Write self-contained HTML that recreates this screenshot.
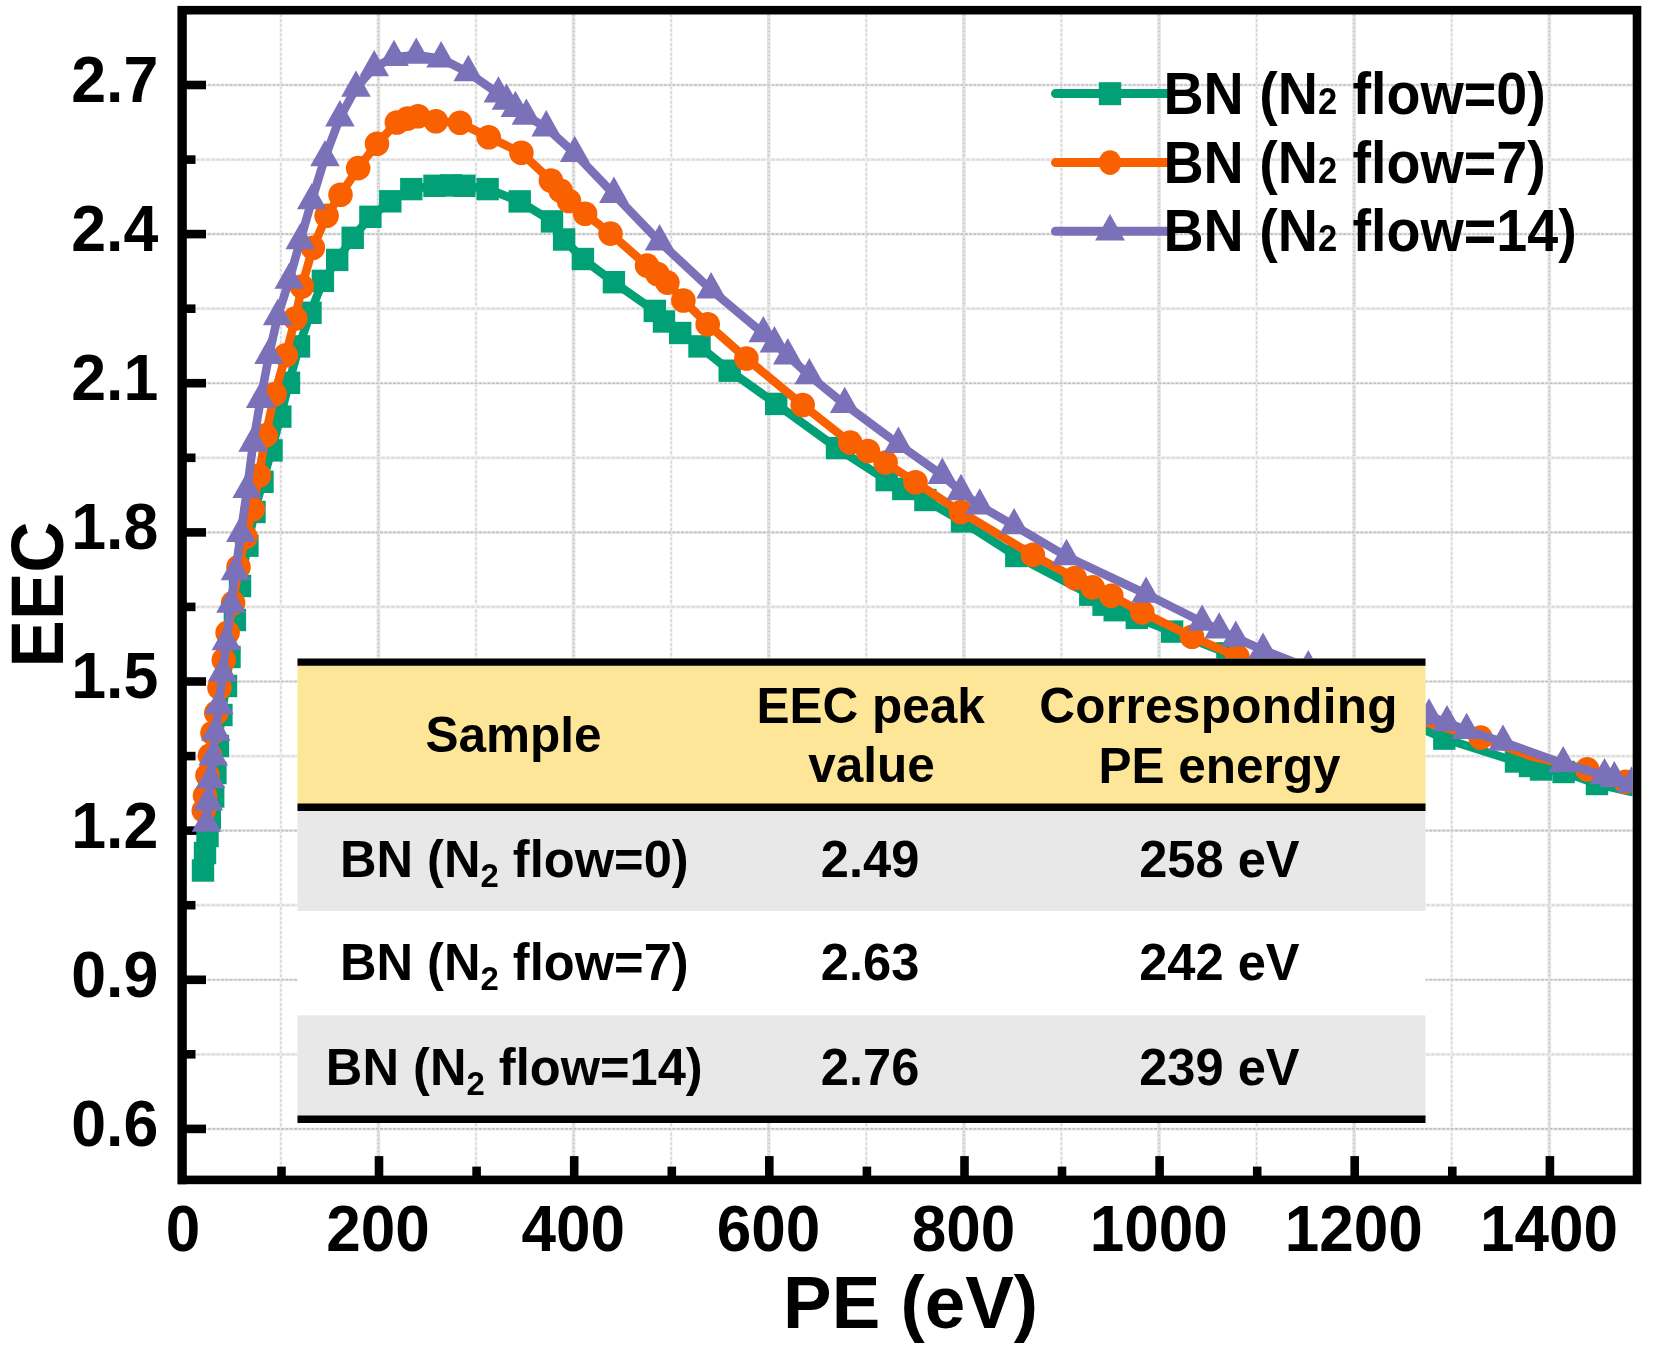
<!DOCTYPE html>
<html lang="en"><head><meta charset="utf-8"><title>EEC vs PE</title>
<style>html,body{margin:0;padding:0;background:#fff}svg{display:block;filter:blur(0.4px)}</style></head>
<body>
<svg width="1662" height="1357" viewBox="0 0 1662 1357" font-family="'Liberation Sans', sans-serif" font-weight="bold">
<rect width="1662" height="1357" fill="#fff"/>
<defs><clipPath id="plot"><rect x="186.5" y="14.5" width="1446.2" height="1161.1"/></clipPath></defs>
<g clip-path="url(#plot)" fill="none">
<line x1="280.9" y1="14.5" x2="280.9" y2="1175.6" stroke="#f3f3f3" stroke-width="2.8"/>
<line x1="280.9" y1="14.5" x2="280.9" y2="1175.6" stroke="#d4d4d4" stroke-width="1.5" stroke-dasharray="2.6 2.2"/>
<line x1="378.4" y1="14.5" x2="378.4" y2="1175.6" stroke="#e6e6e6" stroke-width="3.6"/>
<line x1="378.4" y1="14.5" x2="378.4" y2="1175.6" stroke="#cdcdcd" stroke-width="2.4" stroke-dasharray="1.8 2.2"/>
<line x1="476.0" y1="14.5" x2="476.0" y2="1175.6" stroke="#f3f3f3" stroke-width="2.8"/>
<line x1="476.0" y1="14.5" x2="476.0" y2="1175.6" stroke="#d4d4d4" stroke-width="1.5" stroke-dasharray="2.6 2.2"/>
<line x1="573.6" y1="14.5" x2="573.6" y2="1175.6" stroke="#e6e6e6" stroke-width="3.6"/>
<line x1="573.6" y1="14.5" x2="573.6" y2="1175.6" stroke="#cdcdcd" stroke-width="2.4" stroke-dasharray="1.8 2.2"/>
<line x1="671.2" y1="14.5" x2="671.2" y2="1175.6" stroke="#f3f3f3" stroke-width="2.8"/>
<line x1="671.2" y1="14.5" x2="671.2" y2="1175.6" stroke="#d4d4d4" stroke-width="1.5" stroke-dasharray="2.6 2.2"/>
<line x1="768.7" y1="14.5" x2="768.7" y2="1175.6" stroke="#e6e6e6" stroke-width="3.6"/>
<line x1="768.7" y1="14.5" x2="768.7" y2="1175.6" stroke="#cdcdcd" stroke-width="2.4" stroke-dasharray="1.8 2.2"/>
<line x1="866.3" y1="14.5" x2="866.3" y2="1175.6" stroke="#f3f3f3" stroke-width="2.8"/>
<line x1="866.3" y1="14.5" x2="866.3" y2="1175.6" stroke="#d4d4d4" stroke-width="1.5" stroke-dasharray="2.6 2.2"/>
<line x1="963.9" y1="14.5" x2="963.9" y2="1175.6" stroke="#e6e6e6" stroke-width="3.6"/>
<line x1="963.9" y1="14.5" x2="963.9" y2="1175.6" stroke="#cdcdcd" stroke-width="2.4" stroke-dasharray="1.8 2.2"/>
<line x1="1061.4" y1="14.5" x2="1061.4" y2="1175.6" stroke="#f3f3f3" stroke-width="2.8"/>
<line x1="1061.4" y1="14.5" x2="1061.4" y2="1175.6" stroke="#d4d4d4" stroke-width="1.5" stroke-dasharray="2.6 2.2"/>
<line x1="1159.0" y1="14.5" x2="1159.0" y2="1175.6" stroke="#e6e6e6" stroke-width="3.6"/>
<line x1="1159.0" y1="14.5" x2="1159.0" y2="1175.6" stroke="#cdcdcd" stroke-width="2.4" stroke-dasharray="1.8 2.2"/>
<line x1="1256.6" y1="14.5" x2="1256.6" y2="1175.6" stroke="#f3f3f3" stroke-width="2.8"/>
<line x1="1256.6" y1="14.5" x2="1256.6" y2="1175.6" stroke="#d4d4d4" stroke-width="1.5" stroke-dasharray="2.6 2.2"/>
<line x1="1354.1" y1="14.5" x2="1354.1" y2="1175.6" stroke="#e6e6e6" stroke-width="3.6"/>
<line x1="1354.1" y1="14.5" x2="1354.1" y2="1175.6" stroke="#cdcdcd" stroke-width="2.4" stroke-dasharray="1.8 2.2"/>
<line x1="1451.7" y1="14.5" x2="1451.7" y2="1175.6" stroke="#f3f3f3" stroke-width="2.8"/>
<line x1="1451.7" y1="14.5" x2="1451.7" y2="1175.6" stroke="#d4d4d4" stroke-width="1.5" stroke-dasharray="2.6 2.2"/>
<line x1="1549.3" y1="14.5" x2="1549.3" y2="1175.6" stroke="#e6e6e6" stroke-width="3.6"/>
<line x1="1549.3" y1="14.5" x2="1549.3" y2="1175.6" stroke="#cdcdcd" stroke-width="2.4" stroke-dasharray="1.8 2.2"/>
<line x1="186.5" y1="1128.9" x2="1632.7" y2="1128.9" stroke="#eeeeee" stroke-width="3"/>
<line x1="186.5" y1="1128.9" x2="1632.7" y2="1128.9" stroke="#c0c0c0" stroke-width="1.6" stroke-dasharray="3 1.3"/>
<line x1="186.5" y1="1054.3" x2="1632.7" y2="1054.3" stroke="#f1f1f1" stroke-width="3.2"/>
<line x1="186.5" y1="1054.3" x2="1632.7" y2="1054.3" stroke="#dcdcdc" stroke-width="2.2" stroke-dasharray="3.2 1.8"/>
<line x1="186.5" y1="979.8" x2="1632.7" y2="979.8" stroke="#eeeeee" stroke-width="3"/>
<line x1="186.5" y1="979.8" x2="1632.7" y2="979.8" stroke="#c0c0c0" stroke-width="1.6" stroke-dasharray="3 1.3"/>
<line x1="186.5" y1="905.2" x2="1632.7" y2="905.2" stroke="#f1f1f1" stroke-width="3.2"/>
<line x1="186.5" y1="905.2" x2="1632.7" y2="905.2" stroke="#dcdcdc" stroke-width="2.2" stroke-dasharray="3.2 1.8"/>
<line x1="186.5" y1="830.6" x2="1632.7" y2="830.6" stroke="#eeeeee" stroke-width="3"/>
<line x1="186.5" y1="830.6" x2="1632.7" y2="830.6" stroke="#c0c0c0" stroke-width="1.6" stroke-dasharray="3 1.3"/>
<line x1="186.5" y1="756.1" x2="1632.7" y2="756.1" stroke="#f1f1f1" stroke-width="3.2"/>
<line x1="186.5" y1="756.1" x2="1632.7" y2="756.1" stroke="#dcdcdc" stroke-width="2.2" stroke-dasharray="3.2 1.8"/>
<line x1="186.5" y1="681.5" x2="1632.7" y2="681.5" stroke="#eeeeee" stroke-width="3"/>
<line x1="186.5" y1="681.5" x2="1632.7" y2="681.5" stroke="#c0c0c0" stroke-width="1.6" stroke-dasharray="3 1.3"/>
<line x1="186.5" y1="606.9" x2="1632.7" y2="606.9" stroke="#f1f1f1" stroke-width="3.2"/>
<line x1="186.5" y1="606.9" x2="1632.7" y2="606.9" stroke="#dcdcdc" stroke-width="2.2" stroke-dasharray="3.2 1.8"/>
<line x1="186.5" y1="532.4" x2="1632.7" y2="532.4" stroke="#eeeeee" stroke-width="3"/>
<line x1="186.5" y1="532.4" x2="1632.7" y2="532.4" stroke="#c0c0c0" stroke-width="1.6" stroke-dasharray="3 1.3"/>
<line x1="186.5" y1="457.8" x2="1632.7" y2="457.8" stroke="#f1f1f1" stroke-width="3.2"/>
<line x1="186.5" y1="457.8" x2="1632.7" y2="457.8" stroke="#dcdcdc" stroke-width="2.2" stroke-dasharray="3.2 1.8"/>
<line x1="186.5" y1="383.2" x2="1632.7" y2="383.2" stroke="#eeeeee" stroke-width="3"/>
<line x1="186.5" y1="383.2" x2="1632.7" y2="383.2" stroke="#c0c0c0" stroke-width="1.6" stroke-dasharray="3 1.3"/>
<line x1="186.5" y1="308.7" x2="1632.7" y2="308.7" stroke="#f1f1f1" stroke-width="3.2"/>
<line x1="186.5" y1="308.7" x2="1632.7" y2="308.7" stroke="#dcdcdc" stroke-width="2.2" stroke-dasharray="3.2 1.8"/>
<line x1="186.5" y1="234.1" x2="1632.7" y2="234.1" stroke="#eeeeee" stroke-width="3"/>
<line x1="186.5" y1="234.1" x2="1632.7" y2="234.1" stroke="#c0c0c0" stroke-width="1.6" stroke-dasharray="3 1.3"/>
<line x1="186.5" y1="159.6" x2="1632.7" y2="159.6" stroke="#f1f1f1" stroke-width="3.2"/>
<line x1="186.5" y1="159.6" x2="1632.7" y2="159.6" stroke="#dcdcdc" stroke-width="2.2" stroke-dasharray="3.2 1.8"/>
<line x1="186.5" y1="85.0" x2="1632.7" y2="85.0" stroke="#eeeeee" stroke-width="3"/>
<line x1="186.5" y1="85.0" x2="1632.7" y2="85.0" stroke="#c0c0c0" stroke-width="1.6" stroke-dasharray="3 1.3"/>
</g>
<rect x="182.2" y="10.2" width="1454.8" height="1169.7" fill="none" stroke="#000" stroke-width="8.6"/>
<line x1="182.05" y1="5.9" x2="182.05" y2="1184.2" stroke="#000" stroke-width="9.2"/>
<line x1="281.5" y1="1176.1" x2="281.5" y2="1166.6" stroke="#000" stroke-width="8.6"/>
<line x1="379.0" y1="1176.1" x2="379.0" y2="1156.1" stroke="#000" stroke-width="8.6"/>
<line x1="476.6" y1="1176.1" x2="476.6" y2="1166.6" stroke="#000" stroke-width="8.6"/>
<line x1="574.2" y1="1176.1" x2="574.2" y2="1156.1" stroke="#000" stroke-width="8.6"/>
<line x1="671.8" y1="1176.1" x2="671.8" y2="1166.6" stroke="#000" stroke-width="8.6"/>
<line x1="769.3" y1="1176.1" x2="769.3" y2="1156.1" stroke="#000" stroke-width="8.6"/>
<line x1="866.9" y1="1176.1" x2="866.9" y2="1166.6" stroke="#000" stroke-width="8.6"/>
<line x1="964.5" y1="1176.1" x2="964.5" y2="1156.1" stroke="#000" stroke-width="8.6"/>
<line x1="1062.0" y1="1176.1" x2="1062.0" y2="1166.6" stroke="#000" stroke-width="8.6"/>
<line x1="1159.6" y1="1176.1" x2="1159.6" y2="1156.1" stroke="#000" stroke-width="8.6"/>
<line x1="1257.2" y1="1176.1" x2="1257.2" y2="1166.6" stroke="#000" stroke-width="8.6"/>
<line x1="1354.7" y1="1176.1" x2="1354.7" y2="1156.1" stroke="#000" stroke-width="8.6"/>
<line x1="1452.3" y1="1176.1" x2="1452.3" y2="1166.6" stroke="#000" stroke-width="8.6"/>
<line x1="1549.9" y1="1176.1" x2="1549.9" y2="1156.1" stroke="#000" stroke-width="8.6"/>
<line x1="186.0" y1="1128.9" x2="206.0" y2="1128.9" stroke="#000" stroke-width="8.6"/>
<line x1="186.0" y1="1054.3" x2="195.5" y2="1054.3" stroke="#000" stroke-width="8.6"/>
<line x1="186.0" y1="979.8" x2="206.0" y2="979.8" stroke="#000" stroke-width="8.6"/>
<line x1="186.0" y1="905.2" x2="195.5" y2="905.2" stroke="#000" stroke-width="8.6"/>
<line x1="186.0" y1="830.6" x2="206.0" y2="830.6" stroke="#000" stroke-width="8.6"/>
<line x1="186.0" y1="756.1" x2="195.5" y2="756.1" stroke="#000" stroke-width="8.6"/>
<line x1="186.0" y1="681.5" x2="206.0" y2="681.5" stroke="#000" stroke-width="8.6"/>
<line x1="186.0" y1="606.9" x2="195.5" y2="606.9" stroke="#000" stroke-width="8.6"/>
<line x1="186.0" y1="532.4" x2="206.0" y2="532.4" stroke="#000" stroke-width="8.6"/>
<line x1="186.0" y1="457.8" x2="195.5" y2="457.8" stroke="#000" stroke-width="8.6"/>
<line x1="186.0" y1="383.2" x2="206.0" y2="383.2" stroke="#000" stroke-width="8.6"/>
<line x1="186.0" y1="308.7" x2="195.5" y2="308.7" stroke="#000" stroke-width="8.6"/>
<line x1="186.0" y1="234.1" x2="206.0" y2="234.1" stroke="#000" stroke-width="8.6"/>
<line x1="186.0" y1="159.6" x2="195.5" y2="159.6" stroke="#000" stroke-width="8.6"/>
<line x1="186.0" y1="85.0" x2="206.0" y2="85.0" stroke="#000" stroke-width="8.6"/>
<g clip-path="url(#plot)">
<polyline points="203.0,870.5 205.0,853.0 207.5,836.0 209.8,818.0 213.2,796.5 215.4,773.0 217.9,746.0 221.4,715.0 226.0,686.0 229.5,657.0 234.9,620.0 240.0,586.0 247.4,545.7 254.5,512.0 262.5,481.8 271.5,450.4 280.3,416.6 289.0,382.8 299.0,346.4 310.5,312.8 322.9,280.9 337.2,259.9 352.7,237.8 370.4,216.8 390.3,201.3 411.3,189.1 434.5,185.8 451.1,185.4 464.4,185.8 487.6,189.1 519.7,201.4 552.0,221.4 564.1,239.5 582.9,259.0 613.9,282.2 654.8,310.9 664.0,321.5 680.2,333.0 699.5,346.4 729.7,370.7 776.2,403.9 837.0,448.1 886.7,480.1 903.3,489.0 925.4,500.0 962.0,521.4 1016.3,556.0 1090.3,594.7 1103.6,604.7 1114.7,610.2 1136.8,617.9 1172.1,631.6 1227.4,653.3 1290.0,678.0 1360.0,704.0 1425.0,730.0 1444.3,738.6 1480.0,750.0 1516.0,761.5 1530.0,766.0 1541.0,769.5 1563.6,772.0 1597.0,784.0 1630.0,791.5 1662.0,797.0" fill="none" stroke="#01a077" stroke-width="8.6" stroke-linejoin="round" stroke-linecap="round"/>
<rect x="191.8" y="859.3" width="22.4" height="22.4" fill="#01a077"/>
<rect x="193.8" y="841.8" width="22.4" height="22.4" fill="#01a077"/>
<rect x="196.3" y="824.8" width="22.4" height="22.4" fill="#01a077"/>
<rect x="198.6" y="806.8" width="22.4" height="22.4" fill="#01a077"/>
<rect x="202.0" y="785.3" width="22.4" height="22.4" fill="#01a077"/>
<rect x="204.2" y="761.8" width="22.4" height="22.4" fill="#01a077"/>
<rect x="206.7" y="734.8" width="22.4" height="22.4" fill="#01a077"/>
<rect x="210.2" y="703.8" width="22.4" height="22.4" fill="#01a077"/>
<rect x="214.8" y="674.8" width="22.4" height="22.4" fill="#01a077"/>
<rect x="218.3" y="645.8" width="22.4" height="22.4" fill="#01a077"/>
<rect x="223.7" y="608.8" width="22.4" height="22.4" fill="#01a077"/>
<rect x="228.8" y="574.8" width="22.4" height="22.4" fill="#01a077"/>
<rect x="236.2" y="534.5" width="22.4" height="22.4" fill="#01a077"/>
<rect x="243.3" y="500.8" width="22.4" height="22.4" fill="#01a077"/>
<rect x="251.3" y="470.6" width="22.4" height="22.4" fill="#01a077"/>
<rect x="260.3" y="439.2" width="22.4" height="22.4" fill="#01a077"/>
<rect x="269.1" y="405.4" width="22.4" height="22.4" fill="#01a077"/>
<rect x="277.8" y="371.6" width="22.4" height="22.4" fill="#01a077"/>
<rect x="287.8" y="335.2" width="22.4" height="22.4" fill="#01a077"/>
<rect x="299.3" y="301.6" width="22.4" height="22.4" fill="#01a077"/>
<rect x="311.7" y="269.7" width="22.4" height="22.4" fill="#01a077"/>
<rect x="326.0" y="248.7" width="22.4" height="22.4" fill="#01a077"/>
<rect x="341.5" y="226.6" width="22.4" height="22.4" fill="#01a077"/>
<rect x="359.2" y="205.6" width="22.4" height="22.4" fill="#01a077"/>
<rect x="379.1" y="190.1" width="22.4" height="22.4" fill="#01a077"/>
<rect x="400.1" y="177.9" width="22.4" height="22.4" fill="#01a077"/>
<rect x="423.3" y="174.6" width="22.4" height="22.4" fill="#01a077"/>
<rect x="439.9" y="174.2" width="22.4" height="22.4" fill="#01a077"/>
<rect x="453.2" y="174.6" width="22.4" height="22.4" fill="#01a077"/>
<rect x="476.4" y="177.9" width="22.4" height="22.4" fill="#01a077"/>
<rect x="508.5" y="190.2" width="22.4" height="22.4" fill="#01a077"/>
<rect x="540.8" y="210.2" width="22.4" height="22.4" fill="#01a077"/>
<rect x="552.9" y="228.3" width="22.4" height="22.4" fill="#01a077"/>
<rect x="571.7" y="247.8" width="22.4" height="22.4" fill="#01a077"/>
<rect x="602.7" y="271.0" width="22.4" height="22.4" fill="#01a077"/>
<rect x="643.6" y="299.7" width="22.4" height="22.4" fill="#01a077"/>
<rect x="652.8" y="310.3" width="22.4" height="22.4" fill="#01a077"/>
<rect x="669.0" y="321.8" width="22.4" height="22.4" fill="#01a077"/>
<rect x="688.3" y="335.2" width="22.4" height="22.4" fill="#01a077"/>
<rect x="718.5" y="359.5" width="22.4" height="22.4" fill="#01a077"/>
<rect x="765.0" y="392.7" width="22.4" height="22.4" fill="#01a077"/>
<rect x="825.8" y="436.9" width="22.4" height="22.4" fill="#01a077"/>
<rect x="875.5" y="468.9" width="22.4" height="22.4" fill="#01a077"/>
<rect x="892.1" y="477.8" width="22.4" height="22.4" fill="#01a077"/>
<rect x="914.2" y="488.8" width="22.4" height="22.4" fill="#01a077"/>
<rect x="950.8" y="510.2" width="22.4" height="22.4" fill="#01a077"/>
<rect x="1005.1" y="544.8" width="22.4" height="22.4" fill="#01a077"/>
<rect x="1079.1" y="583.5" width="22.4" height="22.4" fill="#01a077"/>
<rect x="1092.4" y="593.5" width="22.4" height="22.4" fill="#01a077"/>
<rect x="1103.5" y="599.0" width="22.4" height="22.4" fill="#01a077"/>
<rect x="1125.6" y="606.7" width="22.4" height="22.4" fill="#01a077"/>
<rect x="1160.9" y="620.4" width="22.4" height="22.4" fill="#01a077"/>
<rect x="1216.2" y="642.1" width="22.4" height="22.4" fill="#01a077"/>
<rect x="1433.1" y="727.4" width="22.4" height="22.4" fill="#01a077"/>
<rect x="1504.8" y="750.3" width="22.4" height="22.4" fill="#01a077"/>
<rect x="1518.8" y="754.8" width="22.4" height="22.4" fill="#01a077"/>
<rect x="1529.8" y="758.3" width="22.4" height="22.4" fill="#01a077"/>
<rect x="1552.4" y="760.8" width="22.4" height="22.4" fill="#01a077"/>
<rect x="1585.8" y="772.8" width="22.4" height="22.4" fill="#01a077"/>
<polyline points="203.8,810.6 205.0,795.6 207.5,775.5 210.0,755.5 212.5,733.0 216.3,712.9 219.5,687.8 223.8,660.0 227.6,632.7 233.1,603.0 238.5,567.0 245.5,537.0 252.7,509.3 258.9,475.5 265.7,435.4 274.7,394.0 285.8,355.2 295.3,318.5 301.8,286.5 312.9,247.7 326.6,215.7 340.5,194.7 358.2,168.1 377.0,143.8 396.9,122.5 407.5,118.6 418.1,116.3 427.0,117.4 435.9,121.2 459.9,122.8 488.7,137.2 521.4,152.8 550.9,180.5 560.8,190.9 569.0,201.0 585.1,213.7 610.5,233.6 647.0,265.6 657.4,274.0 667.4,282.6 683.4,300.5 707.7,324.3 746.4,358.5 802.7,405.0 850.2,442.6 867.9,451.0 885.6,462.5 915.5,482.3 960.9,512.0 1032.9,554.9 1074.9,578.1 1092.6,587.4 1111.3,595.8 1142.3,612.4 1192.0,636.7 1237.4,656.6 1300.0,680.0 1370.0,704.0 1430.0,723.5 1480.6,737.6 1530.0,756.0 1587.2,769.4 1625.6,781.8 1660.0,791.0" fill="none" stroke="#f96000" stroke-width="8.6" stroke-linejoin="round" stroke-linecap="round"/>
<circle cx="203.8" cy="810.6" r="12.3" fill="#f96000"/>
<circle cx="205.0" cy="795.6" r="12.3" fill="#f96000"/>
<circle cx="207.5" cy="775.5" r="12.3" fill="#f96000"/>
<circle cx="210.0" cy="755.5" r="12.3" fill="#f96000"/>
<circle cx="212.5" cy="733.0" r="12.3" fill="#f96000"/>
<circle cx="216.3" cy="712.9" r="12.3" fill="#f96000"/>
<circle cx="219.5" cy="687.8" r="12.3" fill="#f96000"/>
<circle cx="223.8" cy="660.0" r="12.3" fill="#f96000"/>
<circle cx="227.6" cy="632.7" r="12.3" fill="#f96000"/>
<circle cx="233.1" cy="603.0" r="12.3" fill="#f96000"/>
<circle cx="238.5" cy="567.0" r="12.3" fill="#f96000"/>
<circle cx="245.5" cy="537.0" r="12.3" fill="#f96000"/>
<circle cx="252.7" cy="509.3" r="12.3" fill="#f96000"/>
<circle cx="258.9" cy="475.5" r="12.3" fill="#f96000"/>
<circle cx="265.7" cy="435.4" r="12.3" fill="#f96000"/>
<circle cx="274.7" cy="394.0" r="12.3" fill="#f96000"/>
<circle cx="285.8" cy="355.2" r="12.3" fill="#f96000"/>
<circle cx="295.3" cy="318.5" r="12.3" fill="#f96000"/>
<circle cx="301.8" cy="286.5" r="12.3" fill="#f96000"/>
<circle cx="312.9" cy="247.7" r="12.3" fill="#f96000"/>
<circle cx="326.6" cy="215.7" r="12.3" fill="#f96000"/>
<circle cx="340.5" cy="194.7" r="12.3" fill="#f96000"/>
<circle cx="358.2" cy="168.1" r="12.3" fill="#f96000"/>
<circle cx="377.0" cy="143.8" r="12.3" fill="#f96000"/>
<circle cx="396.9" cy="122.5" r="12.3" fill="#f96000"/>
<circle cx="407.5" cy="118.6" r="12.3" fill="#f96000"/>
<circle cx="418.1" cy="116.3" r="12.3" fill="#f96000"/>
<circle cx="435.9" cy="121.2" r="12.3" fill="#f96000"/>
<circle cx="459.9" cy="122.8" r="12.3" fill="#f96000"/>
<circle cx="488.7" cy="137.2" r="12.3" fill="#f96000"/>
<circle cx="521.4" cy="152.8" r="12.3" fill="#f96000"/>
<circle cx="550.9" cy="180.5" r="12.3" fill="#f96000"/>
<circle cx="560.8" cy="190.9" r="12.3" fill="#f96000"/>
<circle cx="569.0" cy="201.0" r="12.3" fill="#f96000"/>
<circle cx="585.1" cy="213.7" r="12.3" fill="#f96000"/>
<circle cx="610.5" cy="233.6" r="12.3" fill="#f96000"/>
<circle cx="647.0" cy="265.6" r="12.3" fill="#f96000"/>
<circle cx="657.4" cy="274.0" r="12.3" fill="#f96000"/>
<circle cx="667.4" cy="282.6" r="12.3" fill="#f96000"/>
<circle cx="683.4" cy="300.5" r="12.3" fill="#f96000"/>
<circle cx="707.7" cy="324.3" r="12.3" fill="#f96000"/>
<circle cx="746.4" cy="358.5" r="12.3" fill="#f96000"/>
<circle cx="802.7" cy="405.0" r="12.3" fill="#f96000"/>
<circle cx="850.2" cy="442.6" r="12.3" fill="#f96000"/>
<circle cx="867.9" cy="451.0" r="12.3" fill="#f96000"/>
<circle cx="885.6" cy="462.5" r="12.3" fill="#f96000"/>
<circle cx="915.5" cy="482.3" r="12.3" fill="#f96000"/>
<circle cx="960.9" cy="512.0" r="12.3" fill="#f96000"/>
<circle cx="1032.9" cy="554.9" r="12.3" fill="#f96000"/>
<circle cx="1074.9" cy="578.1" r="12.3" fill="#f96000"/>
<circle cx="1092.6" cy="587.4" r="12.3" fill="#f96000"/>
<circle cx="1111.3" cy="595.8" r="12.3" fill="#f96000"/>
<circle cx="1142.3" cy="612.4" r="12.3" fill="#f96000"/>
<circle cx="1192.0" cy="636.7" r="12.3" fill="#f96000"/>
<circle cx="1237.4" cy="656.6" r="12.3" fill="#f96000"/>
<circle cx="1480.6" cy="737.6" r="12.3" fill="#f96000"/>
<circle cx="1587.2" cy="769.4" r="12.3" fill="#f96000"/>
<circle cx="1625.6" cy="781.8" r="12.3" fill="#f96000"/>
<polyline points="206.5,823.0 208.3,801.6 210.5,779.5 213.2,756.6 215.8,732.0 218.8,705.5 222.6,672.8 226.4,641.5 231.0,604.0 235.5,571.5 240.9,533.2 247.2,489.3 253.2,442.9 260.7,399.1 269.0,355.2 277.7,316.4 289.3,280.0 300.3,240.5 311.8,200.5 325.0,157.5 339.9,117.7 356.0,88.0 374.2,67.5 394.0,57.3 416.2,55.0 441.1,58.7 468.3,72.4 498.4,93.8 506.5,101.0 515.4,108.3 526.4,116.0 546.2,127.6 574.7,153.3 613.9,194.2 659.6,241.7 711.1,289.7 763.3,333.5 774.4,343.7 787.8,355.6 809.3,375.5 844.7,404.3 898.4,444.1 942.3,475.2 961.0,491.4 979.7,505.8 1014.1,525.5 1066.5,556.4 1146.1,594.0 1202.1,622.0 1219.2,629.8 1235.8,638.0 1263.0,650.0 1308.3,667.7 1350.0,684.5 1392.0,701.5 1429.0,715.9 1447.0,722.5 1466.6,730.3 1503.0,742.0 1563.2,763.5 1604.5,775.5 1614.3,778.5 1631.6,783.8 1660.0,791.0" fill="none" stroke="#7a71b9" stroke-width="8.6" stroke-linejoin="round" stroke-linecap="round"/>
<polygon points="206.5,805.4 191.7,831.8 221.3,831.8" fill="#7a71b9"/>
<polygon points="208.3,784.0 193.5,810.4 223.1,810.4" fill="#7a71b9"/>
<polygon points="210.5,761.9 195.7,788.3 225.3,788.3" fill="#7a71b9"/>
<polygon points="213.2,739.0 198.4,765.4 228.0,765.4" fill="#7a71b9"/>
<polygon points="215.8,714.4 201.0,740.8 230.6,740.8" fill="#7a71b9"/>
<polygon points="218.8,687.9 204.0,714.3 233.6,714.3" fill="#7a71b9"/>
<polygon points="222.6,655.2 207.8,681.6 237.4,681.6" fill="#7a71b9"/>
<polygon points="226.4,623.9 211.6,650.3 241.2,650.3" fill="#7a71b9"/>
<polygon points="231.0,586.4 216.2,612.8 245.8,612.8" fill="#7a71b9"/>
<polygon points="235.5,553.9 220.7,580.3 250.3,580.3" fill="#7a71b9"/>
<polygon points="240.9,515.6 226.1,542.0 255.7,542.0" fill="#7a71b9"/>
<polygon points="247.2,471.7 232.4,498.1 262.0,498.1" fill="#7a71b9"/>
<polygon points="253.2,425.3 238.4,451.7 268.0,451.7" fill="#7a71b9"/>
<polygon points="260.7,381.5 245.9,407.9 275.5,407.9" fill="#7a71b9"/>
<polygon points="269.0,337.6 254.2,364.0 283.8,364.0" fill="#7a71b9"/>
<polygon points="277.7,298.8 262.9,325.2 292.5,325.2" fill="#7a71b9"/>
<polygon points="289.3,262.4 274.5,288.8 304.1,288.8" fill="#7a71b9"/>
<polygon points="300.3,222.9 285.5,249.3 315.1,249.3" fill="#7a71b9"/>
<polygon points="311.8,182.9 297.0,209.3 326.6,209.3" fill="#7a71b9"/>
<polygon points="325.0,139.9 310.2,166.3 339.8,166.3" fill="#7a71b9"/>
<polygon points="339.9,100.1 325.1,126.5 354.7,126.5" fill="#7a71b9"/>
<polygon points="356.0,70.4 341.2,96.8 370.8,96.8" fill="#7a71b9"/>
<polygon points="374.2,49.9 359.4,76.3 389.0,76.3" fill="#7a71b9"/>
<polygon points="394.0,39.7 379.2,66.1 408.8,66.1" fill="#7a71b9"/>
<polygon points="416.2,37.4 401.4,63.8 431.0,63.8" fill="#7a71b9"/>
<polygon points="441.1,41.1 426.3,67.5 455.9,67.5" fill="#7a71b9"/>
<polygon points="468.3,54.8 453.5,81.2 483.1,81.2" fill="#7a71b9"/>
<polygon points="498.4,76.2 483.6,102.6 513.2,102.6" fill="#7a71b9"/>
<polygon points="506.5,83.4 491.7,109.8 521.3,109.8" fill="#7a71b9"/>
<polygon points="515.4,90.7 500.6,117.1 530.2,117.1" fill="#7a71b9"/>
<polygon points="526.4,98.4 511.6,124.8 541.2,124.8" fill="#7a71b9"/>
<polygon points="546.2,110.0 531.4,136.4 561.0,136.4" fill="#7a71b9"/>
<polygon points="574.7,135.7 559.9,162.1 589.5,162.1" fill="#7a71b9"/>
<polygon points="613.9,176.6 599.1,203.0 628.7,203.0" fill="#7a71b9"/>
<polygon points="659.6,224.1 644.8,250.5 674.4,250.5" fill="#7a71b9"/>
<polygon points="711.1,272.1 696.3,298.5 725.9,298.5" fill="#7a71b9"/>
<polygon points="763.3,315.9 748.5,342.3 778.1,342.3" fill="#7a71b9"/>
<polygon points="774.4,326.1 759.6,352.5 789.2,352.5" fill="#7a71b9"/>
<polygon points="787.8,338.0 773.0,364.4 802.6,364.4" fill="#7a71b9"/>
<polygon points="809.3,357.9 794.5,384.3 824.1,384.3" fill="#7a71b9"/>
<polygon points="844.7,386.7 829.9,413.1 859.5,413.1" fill="#7a71b9"/>
<polygon points="898.4,426.5 883.6,452.9 913.2,452.9" fill="#7a71b9"/>
<polygon points="942.3,457.6 927.5,484.0 957.1,484.0" fill="#7a71b9"/>
<polygon points="961.0,473.8 946.2,500.2 975.8,500.2" fill="#7a71b9"/>
<polygon points="979.7,488.2 964.9,514.6 994.5,514.6" fill="#7a71b9"/>
<polygon points="1014.1,507.9 999.3,534.3 1028.9,534.3" fill="#7a71b9"/>
<polygon points="1066.5,538.8 1051.7,565.2 1081.3,565.2" fill="#7a71b9"/>
<polygon points="1146.1,576.4 1131.3,602.8 1160.9,602.8" fill="#7a71b9"/>
<polygon points="1202.1,604.4 1187.3,630.8 1216.9,630.8" fill="#7a71b9"/>
<polygon points="1219.2,612.2 1204.4,638.6 1234.0,638.6" fill="#7a71b9"/>
<polygon points="1235.8,620.4 1221.0,646.8 1250.6,646.8" fill="#7a71b9"/>
<polygon points="1263.0,632.4 1248.2,658.8 1277.8,658.8" fill="#7a71b9"/>
<polygon points="1308.3,650.1 1293.5,676.5 1323.1,676.5" fill="#7a71b9"/>
<polygon points="1429.0,698.3 1414.2,724.7 1443.8,724.7" fill="#7a71b9"/>
<polygon points="1447.0,704.9 1432.2,731.3 1461.8,731.3" fill="#7a71b9"/>
<polygon points="1466.6,712.7 1451.8,739.1 1481.4,739.1" fill="#7a71b9"/>
<polygon points="1503.0,724.4 1488.2,750.8 1517.8,750.8" fill="#7a71b9"/>
<polygon points="1563.2,745.9 1548.4,772.3 1578.0,772.3" fill="#7a71b9"/>
<polygon points="1604.5,757.9 1589.7,784.3 1619.3,784.3" fill="#7a71b9"/>
<polygon points="1614.3,760.9 1599.5,787.3 1629.1,787.3" fill="#7a71b9"/>
<polygon points="1631.6,766.2 1616.8,792.6 1646.4,792.6" fill="#7a71b9"/>
</g>
<text transform="translate(183.0,1250.8) scale(0.9695,1)" font-size="64.0" text-anchor="middle">0</text>
<text transform="translate(378.1,1250.8) scale(0.9695,1)" font-size="64.0" text-anchor="middle">200</text>
<text transform="translate(573.3,1250.8) scale(0.9695,1)" font-size="64.0" text-anchor="middle">400</text>
<text transform="translate(768.4,1250.8) scale(0.9695,1)" font-size="64.0" text-anchor="middle">600</text>
<text transform="translate(963.6,1250.8) scale(0.9695,1)" font-size="64.0" text-anchor="middle">800</text>
<text transform="translate(1158.7,1250.8) scale(0.9695,1)" font-size="64.0" text-anchor="middle">1000</text>
<text transform="translate(1353.8,1250.8) scale(0.9695,1)" font-size="64.0" text-anchor="middle">1200</text>
<text transform="translate(1549.0,1250.8) scale(0.9695,1)" font-size="64.0" text-anchor="middle">1400</text>
<text transform="translate(158.3,1145.8) scale(0.9792,1)" font-size="64.0" text-anchor="end">0.6</text>
<text transform="translate(158.3,996.7) scale(0.9792,1)" font-size="64.0" text-anchor="end">0.9</text>
<text transform="translate(158.3,847.5) scale(0.9792,1)" font-size="64.0" text-anchor="end">1.2</text>
<text transform="translate(158.3,698.4) scale(0.9792,1)" font-size="64.0" text-anchor="end">1.5</text>
<text transform="translate(158.3,549.3) scale(0.9792,1)" font-size="64.0" text-anchor="end">1.8</text>
<text transform="translate(158.3,400.1) scale(0.9792,1)" font-size="64.0" text-anchor="end">2.1</text>
<text transform="translate(158.3,251.0) scale(0.9792,1)" font-size="64.0" text-anchor="end">2.4</text>
<text transform="translate(158.3,101.9) scale(0.9792,1)" font-size="64.0" text-anchor="end">2.7</text>
<text transform="translate(910.6,1327.6) scale(0.9910,1)" font-size="73.5" text-anchor="middle">PE (eV)</text>
<text transform="translate(63.0,594.4) rotate(-90) scale(0.947,1)" font-size="75" text-anchor="middle">EEC</text>
<line x1="1055.5" y1="93.6" x2="1167" y2="93.6" stroke="#01a077" stroke-width="9" stroke-linecap="round"/>
<rect x="1098.8" y="82.2" width="22.4" height="23.0" fill="#01a077"/>
<text transform="translate(1163.4,113.8) scale(0.9510,1)" font-size="58.5" text-anchor="start">BN (N<tspan font-size="36.3">2</tspan> flow=0)</text>
<line x1="1055.5" y1="162.6" x2="1167" y2="162.6" stroke="#f96000" stroke-width="9" stroke-linecap="round"/>
<ellipse cx="1110" cy="162.6" rx="11.3" ry="12.3" fill="#f96000"/>
<text transform="translate(1163.4,182.8) scale(0.9510,1)" font-size="58.5" text-anchor="start">BN (N<tspan font-size="36.3">2</tspan> flow=7)</text>
<line x1="1055.5" y1="231.2" x2="1167" y2="231.2" stroke="#7a71b9" stroke-width="9" stroke-linecap="round"/>
<polygon points="1110.0,214.0 1095.1,240.4 1124.9,240.4" fill="#7a71b9"/>
<text transform="translate(1163.4,251.4) scale(0.9510,1)" font-size="58.5" text-anchor="start">BN (N<tspan font-size="36.3">2</tspan> flow=14)</text>
<rect x="297.5" y="658.4" width="1128.0" height="464.4" fill="#fff"/>
<rect x="297.5" y="662" width="1128.0" height="146" fill="#fee698"/>
<rect x="297.5" y="807" width="1128.0" height="104" fill="#e8e8e8"/>
<rect x="297.5" y="1015.3" width="1128.0" height="104" fill="#e8e8e8"/>
<line x1="297.5" y1="662.1" x2="1425.5" y2="662.1" stroke="#000" stroke-width="7.4"/>
<line x1="297.5" y1="807.3" x2="1425.5" y2="807.3" stroke="#000" stroke-width="7.4"/>
<line x1="297.5" y1="1119.2" x2="1425.5" y2="1119.2" stroke="#000" stroke-width="7.4"/>
<g font-size="49.5" text-anchor="middle">
<text x="513.6" y="752.1">Sample</text>
<text x="870.7" y="722.5">EEC peak</text>
<text x="871.6" y="782.2">value</text>
<text x="1218.6" y="723.0" letter-spacing="0.3">Corresponding</text>
<text x="1219.6" y="782.6">PE energy</text>
</g>
<text transform="translate(514.3,877.1) scale(0.9810,1)" font-size="51.6" text-anchor="middle">BN (N<tspan font-size="33.5" dy="10">2</tspan><tspan dy="-10"> flow=0)</tspan></text>
<text transform="translate(870.1,877.1) scale(0.9810,1)" font-size="51.6" text-anchor="middle">2.49</text>
<text transform="translate(1219.4,877.1) scale(0.9810,1)" font-size="51.6" text-anchor="middle">258 eV</text>
<text transform="translate(514.3,980.2) scale(0.9810,1)" font-size="51.6" text-anchor="middle">BN (N<tspan font-size="33.5" dy="10">2</tspan><tspan dy="-10"> flow=7)</tspan></text>
<text transform="translate(870.1,980.2) scale(0.9810,1)" font-size="51.6" text-anchor="middle">2.63</text>
<text transform="translate(1219.4,980.2) scale(0.9810,1)" font-size="51.6" text-anchor="middle">242 eV</text>
<text transform="translate(514.3,1084.5) scale(0.9810,1)" font-size="51.6" text-anchor="middle">BN (N<tspan font-size="33.5" dy="10">2</tspan><tspan dy="-10"> flow=14)</tspan></text>
<text transform="translate(870.1,1084.5) scale(0.9810,1)" font-size="51.6" text-anchor="middle">2.76</text>
<text transform="translate(1219.4,1084.5) scale(0.9810,1)" font-size="51.6" text-anchor="middle">239 eV</text>
</svg>
</body></html>
